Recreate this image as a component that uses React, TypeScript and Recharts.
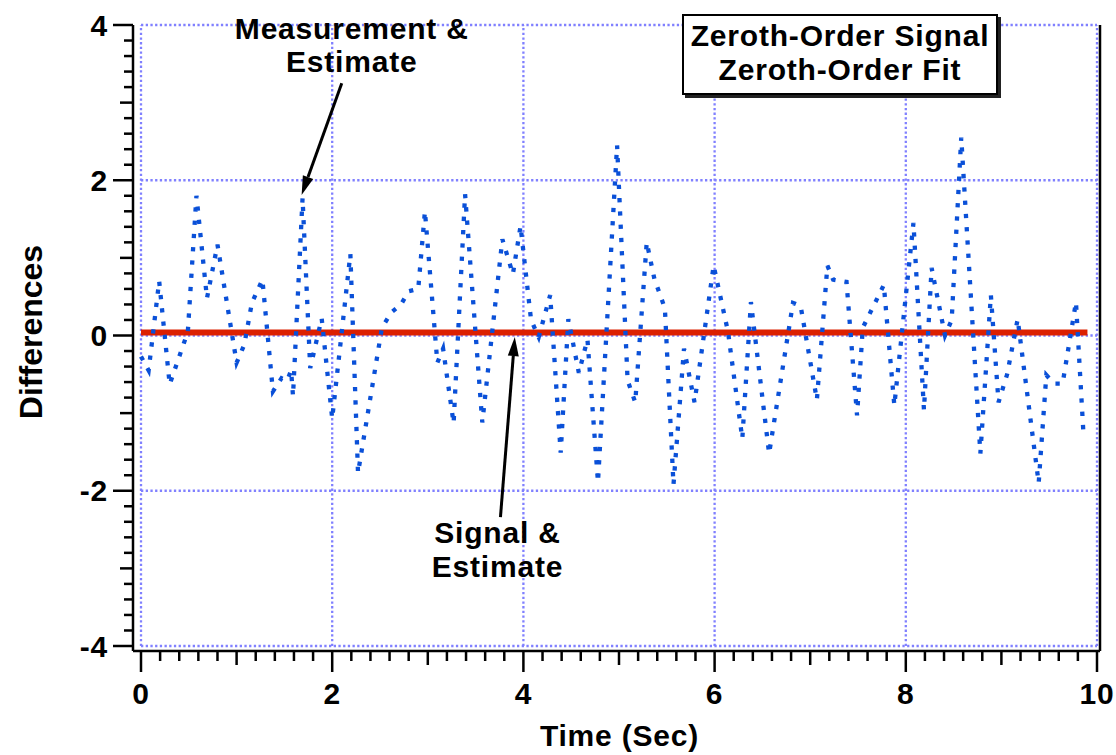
import React from 'react';
import { LineChart, Line, XAxis, YAxis, ReferenceLine, Legend } from 'recharts';

const measTime = [
  0.0, 0.08, 0.19, 0.3, 0.49, 0.58, 0.69, 0.8, 1.0, 1.08, 1.16, 1.27, 1.38, 1.47, 1.53, 1.57, 1.59, 1.69,
  1.77, 1.89, 2.0, 2.19, 2.27, 2.52, 2.62, 2.72, 2.8, 2.9, 2.97, 3.1, 3.16, 3.27, 3.39, 3.57, 3.78, 3.89,
  3.97, 4.08, 4.16, 4.28, 4.39, 4.47, 4.58, 4.67, 4.78, 4.98, 5.09, 5.17, 5.29, 5.37, 5.48, 5.57, 5.68,
  5.79, 5.99, 6.14, 6.29, 6.38, 6.57, 6.82, 6.9, 7.07, 7.18, 7.24, 7.38, 7.49, 7.55, 7.77, 7.88, 8.08,
  8.19, 8.27, 8.41, 8.48, 8.58, 8.78, 8.89, 8.97, 9.06, 9.17, 9.39, 9.47, 9.55, 9.64, 9.78, 9.86,
];
const measValue = [
  -0.27, -0.45, 0.7, -0.63, 0.05, 1.8, 0.48, 1.17, -0.35, -0.12, 0.42, 0.72, -0.72, -0.55, -0.58, -0.45, -0.78, 1.77,
  -0.42, 0.22, -1.07, 1.05, -1.77, 0.1, 0.3, 0.4, 0.57, 0.6, 1.6, -0.35, -0.17, -1.13, 1.82, -1.12, 1.24, 0.79,
  1.41, 0.2, -0.02, 0.52, -1.51, 0.21, -0.48, -0.05, -1.89, 2.45, -0.58, -0.86, 1.2, 0.73, 0.35, -1.92, -0.17,
  -0.86, 0.9, 0.05, -1.33, 0.43, -1.52, 0.42, 0.38, -0.83, 0.9, 0.72, 0.69, -1.03, 0.1, 0.65, -0.9, 1.45,
  -0.96, 0.87, 0.0, 0.2, 2.55, -1.52, 0.52, -0.86, -0.5, 0.21, -1.9, -0.51, -0.62, -0.62, 0.43, -1.3,
];

// signal minus estimate (red)
const fitTime = [0, 9.9];
const fitValue = [0.04, 0.04];

const xTicks = [
  0, 0.2, 0.4, 0.6, 0.8, 1, 1.2, 1.4, 1.6, 1.8, 2, 2.2, 2.4, 2.6, 2.8, 3, 3.2, 3.4, 3.6, 3.8, 4,
  4.2, 4.4, 4.6, 4.8, 5, 5.2, 5.4, 5.6, 5.8, 6, 6.2, 6.4, 6.6, 6.8, 7, 7.2, 7.4, 7.6, 7.8, 8,
  8.2, 8.4, 8.6, 8.8, 9, 9.2, 9.4, 9.6, 9.8, 10,
];
const yTicks = [
  -4, -3.8, -3.6, -3.4, -3.2, -3, -2.8, -2.6, -2.4, -2.2, -2, -1.8, -1.6, -1.4, -1.2, -1, -0.8, -0.6, -0.4, -0.2,
  0, 0.2, 0.4, 0.6, 0.8, 1, 1.2, 1.4, 1.6, 1.8, 2, 2.2, 2.4, 2.6, 2.8, 3, 3.2, 3.4, 3.6, 3.8, 4,
];
const xGrid = [0, 2, 4, 6, 8, 10];
const yGrid = [-4, -2, 0, 2, 4];

const legendLines = ['Zeroth-Order Signal', 'Zeroth-Order Fit'];

const measurement = measTime.map((t, i) => ({ t, v: measValue[i] }));
const fit = fitTime.map((t, i) => ({ t, v: fitValue[i] }));

const FONT = '"Liberation Sans", Arial, Helvetica, sans-serif';
const GRID = '#8080ff';
const TICK_W = 2.5;

function tickKind(v: number) {
  if (Math.abs(v - Math.round(v)) > 1e-6) return 'minor';
  return Math.round(v) % 2 === 0 ? 'major' : 'mid';
}
const tickLen = { major: 21, mid: 14, minor: 10 };

const textStyle = { fontFamily: FONT, fontWeight: 700, fontSize: 30, letterSpacing: 0.8 };

function BottomTick(props: any) {
  const { x, y, payload } = props;
  const kind = tickKind(payload.value);
  return (
    <g>
      <line x1={x} x2={x} y1={y} y2={y + tickLen[kind]} stroke="#000" strokeWidth={TICK_W} />
      {kind === 'major' && (
        <text x={x} y={y + 53} textAnchor="middle" fill="#000" style={textStyle}>
          {payload.value}
        </text>
      )}
    </g>
  );
}

function LeftTick(props: any) {
  const { x, y, payload } = props;
  const kind = tickKind(payload.value);
  return (
    <g>
      <line x1={x - tickLen[kind] + 1} x2={x} y1={y} y2={y} stroke="#000" strokeWidth={TICK_W} />
      {kind === 'major' && (
        <text x={x - 25} y={y + 10.5} textAnchor="end" fill="#000" style={textStyle}>
          {payload.value}
        </text>
      )}
    </g>
  );
}

function RightTick(props: any) {
  const { x, y, payload } = props;
  const kind = tickKind(payload.value);
  return <line x1={x} x2={x + tickLen[kind]} y1={y} y2={y} stroke="#000" strokeWidth={TICK_W} />;
}

// arrow drawn from the segment's first point (tail) to its second point (tip)
function arrowShape(lines: string[], dx: number, dys: number[]) {
  return (p: any) => {
    const { x1, y1, x2, y2 } = p;
    const len = Math.hypot(x2 - x1, y2 - y1);
    const ux = (x2 - x1) / len;
    const uy = (y2 - y1) / len;
    const bx = x2 - ux * 19;
    const by = y2 - uy * 19;
    const w = 5.5;
    return (
      <g>
        <line x1={x1} y1={y1} x2={bx} y2={by} stroke="#000" strokeWidth={3} />
        <polygon
          points={`${x2},${y2} ${bx - uy * w},${by + ux * w} ${bx + uy * w},${by - ux * w}`}
          fill="#000"
        />
        {lines.map((s, i) => (
          <text key={s} x={x1 + dx} y={y1 + dys[i]} textAnchor="middle" fill="#000" style={textStyle}>
            {s}
          </text>
        ))}
      </g>
    );
  };
}

function LegendBox() {
  return (
    <div
      style={{
        width: 316,
        boxSizing: 'border-box',
        border: '2.5px solid #000',
        background: '#fff',
        boxShadow: '3px 3px 0 #222',
        padding: '3px 0 6px',
        textAlign: 'center',
        fontFamily: FONT,
        fontWeight: 700,
        fontSize: 30,
        lineHeight: '34px',
        letterSpacing: 0.8,
        color: '#000',
      }}
    >
      {legendLines.map((s) => (
        <div key={s}>{s}</div>
      ))}
    </div>
  );
}

export default function App() {
  return (
    <div style={{ position: 'absolute', left: 0, top: 0, width: 1116, height: 755, background: '#fff' }}>
      <LineChart width={1116} height={755} margin={{ top: 25, right: 0, bottom: 0, left: 0 }}>
        <XAxis
          type="number"
          dataKey="t"
          domain={[0, 10]}
          ticks={xTicks}
          interval={0}
          padding={{ left: 8, right: 3 }}
          height={104}
          tickSize={0}
          tickMargin={0}
          tickLine={false}
          axisLine={{ stroke: '#000', strokeWidth: 2.5 }}
          tick={<BottomTick />}
          label={(p: any) => {
            const vb = p.viewBox;
            return (
              <text x={vb.x + vb.width / 2 + 3} y={vb.y + 95} textAnchor="middle" fill="#000" style={textStyle}>
                Time (Sec)
              </text>
            );
          }}
        />
        <YAxis
          type="number"
          domain={[-4, 4]}
          ticks={yTicks}
          interval={0}
          padding={{ top: 0, bottom: 5 }}
          width={133}
          tickSize={0}
          tickMargin={0}
          tickLine={false}
          axisLine={{ stroke: '#000', strokeWidth: 2.5 }}
          tick={<LeftTick />}
          label={(p: any) => {
            const vb = p.viewBox;
            const cx = 42;
            const cy = vb.y + vb.height / 2 - 6;
            return (
              <text
                x={cx}
                y={cy}
                textAnchor="middle"
                fill="#000"
                transform={`rotate(-90, ${cx}, ${cy})`}
                style={{ ...textStyle, fontSize: 32, letterSpacing: 0 }}
              >
                Differences
              </text>
            );
          }}
        />
        <YAxis
          yAxisId="right"
          orientation="right"
          type="number"
          domain={[-4, 4]}
          ticks={yTicks}
          interval={0}
          padding={{ top: 0, bottom: 5 }}
          width={16}
          tickSize={0}
          tickMargin={0}
          tickLine={false}
          axisLine={{ stroke: '#000', strokeWidth: 2.5 }}
          tick={<RightTick />}
        />

        {xGrid.map((g) => (
          <ReferenceLine
            key={`gx${g}`}
            segment={[{ x: g, y: -4 }, { x: g, y: 4 }]}
            stroke={GRID}
            strokeWidth={2.3}
            strokeDasharray="2.3 2.4"
          />
        ))}
        {yGrid.map((g) => (
          <ReferenceLine
            key={`gy${g}`}
            segment={[{ x: 0, y: g }, { x: 10, y: g }]}
            stroke={GRID}
            strokeWidth={2.3}
            strokeDasharray="2.3 2.4"
          />
        ))}

        <Line
          data={fit}
          dataKey="v"
          type="linear"
          stroke="#dc2000"
          strokeWidth={6}
          dot={false}
          activeDot={false}
          isAnimationActive={false}
        />
        <Line
          data={measurement}
          dataKey="v"
          type="linear"
          stroke="#0a50d8"
          strokeWidth={4.3}
          strokeDasharray="4.3 9"
          strokeLinecap="butt"
          dot={false}
          activeDot={false}
          isAnimationActive={false}
        />

        <ReferenceLine
          segment={[{ x: 2.1, y: 3.25 }, { x: 1.68, y: 1.81 }]}
          shape={arrowShape(['Measurement &', 'Estimate'], 10, [-44, -11])}
        />
        <ReferenceLine
          segment={[{ x: 3.76, y: -2.34 }, { x: 3.91, y: -0.02 }]}
          shape={arrowShape(['Signal &', 'Estimate'], -3, [26, 60])}
        />

        <Legend
          verticalAlign="middle"
          align="center"
          wrapperStyle={{ left: 682, top: 14, width: 'auto', height: 'auto' }}
          content={() => <LegendBox />}
        />
      </LineChart>
    </div>
  );
}
